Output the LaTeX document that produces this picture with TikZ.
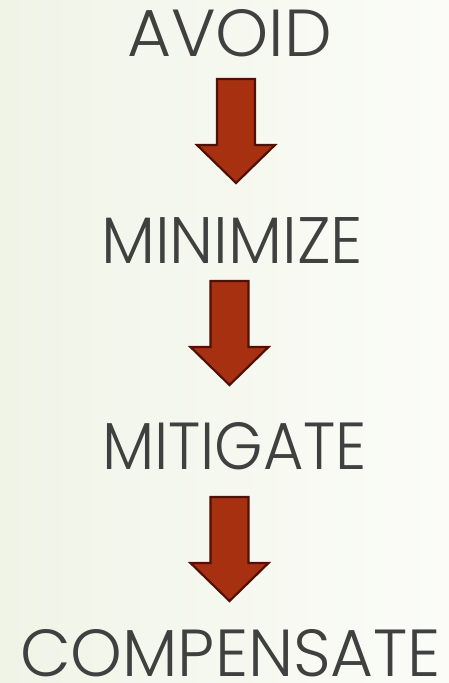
\documentclass[tikz,border=0pt]{standalone}
\usepackage{fontspec}
\setmainfont{Poppins Light}
\usepackage{graphicx}
\definecolor{bgL}{RGB}{240,244,231}
\definecolor{bgR}{RGB}{251,252,248}
\definecolor{arrowfill}{RGB}{166,48,16}
\definecolor{arrowline}{RGB}{80,16,6}
\definecolor{wordcol}{RGB}{64,64,64}
\tikzset{
  word/.style={inner sep=0pt, outer sep=0pt, anchor=south west, text=wordcol},
  blockarrow/.style={fill=arrowfill, draw=arrowline, line width=2.2pt, line join=miter}
}
\newcommand\fitword[3]{\resizebox{#1pt}{#2pt}{#3}}
\begin{document}
\begin{tikzpicture}[x=1pt,y=-1pt]
\shade[left color=bgL, right color=bgR] (0,0) rectangle (449,683);
\useasboundingbox (0,0) rectangle (449,683);
\node[word] (avoid) at (127,57) {\fitword{205}{47}{AVOID}};
\node[word] (minimize) at (101,263) {\fitword{262}{46}{MINIMIZE}};
\node[word] (mitigate) at (102,470) {\fitword{265}{47}{MITIGATE}};
\node[word] (compensate) at (20,677) {\fitword{421}{47}{COMPENSATE}};
\coordinate (a1) at (236,79);
\coordinate (a2) at (229.5,281);
\coordinate (a3) at (229.5,497);
\foreach \c in {a1,a2,a3}{
  \draw[blockarrow] ([xshift=-19pt]\c) -- ([xshift=19pt]\c) -- ([xshift=19pt,yshift=-66pt]\c)
    -- ([xshift=39pt,yshift=-66pt]\c) -- ([yshift=-104pt]\c) -- ([xshift=-39pt,yshift=-66pt]\c)
    -- ([xshift=-19pt,yshift=-66pt]\c) -- cycle;
}
\end{tikzpicture}
\end{document}
